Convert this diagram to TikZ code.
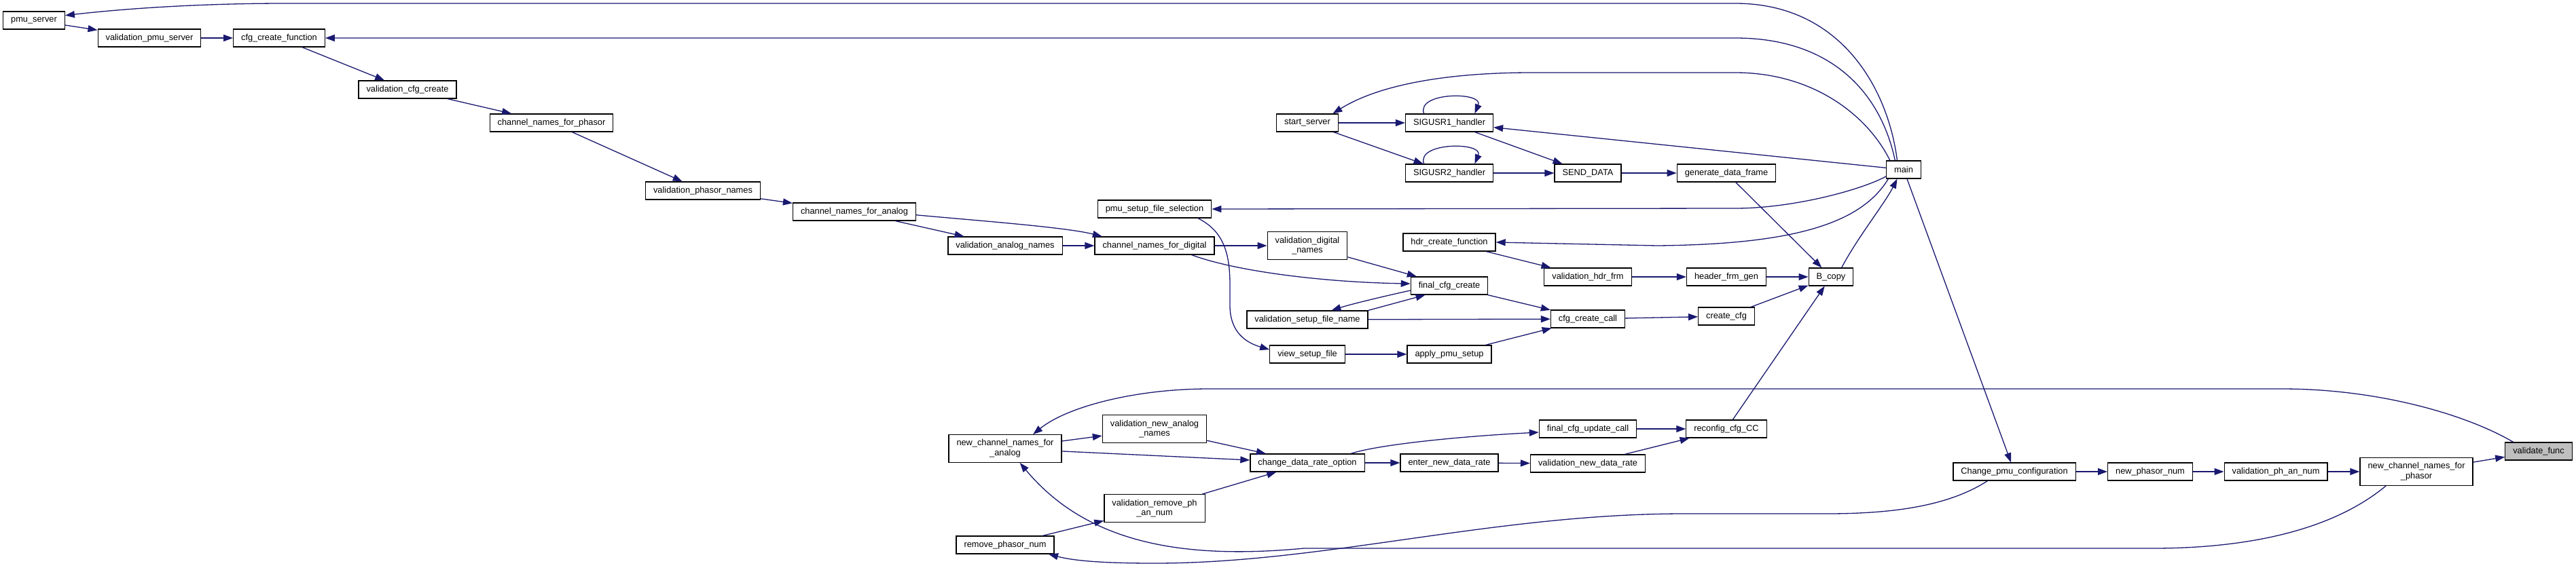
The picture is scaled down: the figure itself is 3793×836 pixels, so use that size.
\documentclass[tikz,border=0pt]{standalone}
\usepackage{fontspec}
\setmainfont{Liberation Sans}
\usetikzlibrary{arrows.meta}
\definecolor{edgeblue}{RGB}{25,25,112}
\definecolor{focusgray}{RGB}{191,191,191}
\tikzset{
  func/.style = {draw = black, line width = 1.2pt, fill = white, inner xsep = 11.5pt, inner ysep = 7pt, minimum height = 26pt, align = center, font = \fontsize{12.8}{14.7}\selectfont},
  focus/.style = {func, fill = focusgray},
  calls/.style = {draw = edgeblue, line width = 1.3pt, -{Triangle[length = 14pt, width = 10pt]}}
}

\begin{document}
\begin{tikzpicture}[x = 1pt, y = -1pt]
\useasboundingbox (0,0) rectangle (3793,836);

\node[func] (pmusrv) at ( 50, 30) {pmu\_server};
\node[func] (valpmusrv) at ( 220, 56) {validation\_pmu\_server};
\node[func] (cfgcf) at ( 411, 56) {cfg\_create\_function};
\node[func] (valcfgc) at ( 600, 132) {validation\_cfg\_create};
\node[func] (cnphasor) at ( 812, 181) {channel\_names\_for\_phasor};
\node[func] (valphasor) at (1035, 281) {validation\_phasor\_names};
\node[func] (cnanalog) at (1258, 312) {channel\_names\_for\_analog};
\node[func] (valanalog) at (1480, 362) {validation\_analog\_names};
\node[func] (cndigital) at (1700, 362) {channel\_names\_for\_digital};
\node[func] (setupsel) at (1700, 308) {pmu\_setup\_file\_selection};
\node[func] (valdigital) at (1925, 362) {validation\_digital\\\_names};
\node[func] (startsrv) at (1925, 181) {start\_server};
\node[func] (sigone) at (2134, 181) {SIGUSR1\_handler};
\node[func] (sigtwo) at (2134, 255) {SIGUSR2\_handler};
\node[func] (senddata) at (2338, 255) {SEND\_DATA};
\node[func] (gendata) at (2542, 255) {generate\_data\_frame};
\node[func] (main) at (2803, 250) {main};
\node[func] (hdrcf) at (2134, 357) {hdr\_create\_function};
\node[func] (valhdr) at (2338, 408) {validation\_hdr\_frm};
\node[func] (hdrgen) at (2542, 408) {header\_frm\_gen};
\node[func] (bcopy) at (2696, 408) {B\_copy};
\node[func] (finalcfg) at (2134, 421) {final\_cfg\_create};
\node[func] (valsetup) at (1925, 471) {validation\_setup\_file\_name};
\node[func] (cfgcall) at (2338, 470) {cfg\_create\_call};
\node[func] (createcfg) at (2542, 466) {create\_cfg};
\node[func] (viewsetup) at (1925, 522) {view\_setup\_file};
\node[func] (applysetup) at (2134, 522) {apply\_pmu\_setup};
\node[func] (ncnanalog) at (1480, 661) {new\_channel\_names\_for\\\_analog};
\node[func] (valnewanalog) at (1700, 632) {validation\_new\_analog\\\_names};
\node[func] (chrate) at (1925, 682) {change\_data\_rate\_option};
\node[func] (fcfgupd) at (2338, 632) {final\_cfg\_update\_call};
\node[func] (reconfig) at (2542, 632) {reconfig\_cfg\_CC};
\node[func] (enterrate) at (2134, 682) {enter\_new\_data\_rate};
\node[func] (valrate) at (2338, 683) {validation\_new\_data\_rate};
\node[func] (valremove) at (1700, 749) {validation\_remove\_ph\\\_an\_num};
\node[func] (removeph) at (1480, 803) {remove\_phasor\_num};
\node[func] (changepmu) at (2966, 695) {Change\_pmu\_configuration};
\node[func] (newphasor) at (3166, 695) {new\_phasor\_num};
\node[func] (valphan) at (3351, 695) {validation\_ph\_an\_num};
\node[func] (ncnphasor) at (3558, 695) {new\_channel\_names\_for\\\_phasor};
\node[focus] (validate) at (3738, 665) {validate\_func};

\draw[calls] (main.125) .. controls (2780,130) and (2710,5) .. (2555,5) -- (420,5) .. controls (300,5) and (190,12) .. (pmusrv.9);
\draw[calls] (pmusrv) -- (valpmusrv);
\draw[calls] (valpmusrv) -- (cfgcf);
\draw[calls] (main.133) .. controls (2770,140) and (2700,56) .. (2555,56) -- (cfgcf.east);
\draw[calls] (cfgcf) -- (valcfgc);
\draw[calls] (valcfgc) -- (cnphasor);
\draw[calls] (cnphasor) -- (valphasor);
\draw[calls] (valphasor) -- (cnanalog);
\draw[calls] (cnanalog) -- (valanalog);
\draw[calls] (cnanalog.-3) .. controls (1450,326) and (1570,335) .. (cndigital.170);
\draw[calls] (valanalog) -- (cndigital);
\draw[calls] (cndigital) -- (valdigital);
\draw[calls] (cndigital.-14) .. controls (1820,400) and (1950,416) .. (finalcfg.177);
\draw[calls] (valdigital) -- (finalcfg);
\draw[calls] (finalcfg.187) .. controls (2040,436) and (1990,448) .. (valsetup.21);
\draw[calls] (valsetup.north east) -- (finalcfg.201);
\draw[calls] (valsetup) -- (cfgcall);
\draw[calls] (finalcfg) -- (cfgcall);
\draw[calls] (applysetup) -- (cfgcall);
\draw[calls] (viewsetup) -- (applysetup);
\draw[calls] (setupsel.-12) .. controls (1800,340) and (1811,370) .. (1811,420) -- (1811,450) .. controls (1811,490) and (1835,505) .. (viewsetup.173);
\draw[calls] (main.201) .. controls (2740,280) and (2640,307) .. (2555,307) -- (setupsel.east);
\draw[calls] (main.146) .. controls (2750,170) and (2670,107) .. (2555,107) -- (2255,107) .. controls (2130,107) and (2030,125) .. (startsrv.20);
\draw[calls] (startsrv) -- (sigone);
\draw[calls] (startsrv) -- (sigtwo);
\draw[calls] (sigone.160) .. controls (2085,135) and (2185,135) .. (sigone.20);
\draw[calls] (sigtwo.160) .. controls (2085,209) and (2185,209) .. (sigtwo.20);
\draw[calls] (main) -- (sigone);
\draw[calls] (sigone) -- (senddata);
\draw[calls] (sigtwo) -- (senddata);
\draw[calls] (senddata) -- (gendata);
\draw[calls] (gendata) -- (bcopy);
\draw[calls] (bcopy.41) .. controls (2735,350) and (2775,300) .. (main.-125);
\draw[calls] (main.211) .. controls (2740,330) and (2640,360) .. (2440,362) -- (hdrcf.east);
\draw[calls] (hdrcf) -- (valhdr);
\draw[calls] (valhdr) -- (hdrgen);
\draw[calls] (hdrgen) -- (bcopy);
\draw[calls] (createcfg) -- (bcopy);
\draw[calls] (cfgcall) -- (createcfg);
\draw[calls] (reconfig) -- (bcopy);
\draw[calls] (fcfgupd) -- (reconfig);
\draw[calls] (valrate) -- (reconfig);
\draw[calls] (enterrate) -- (valrate);
\draw[calls] (chrate) -- (enterrate);
\draw[calls] (chrate.12) .. controls (2030,655) and (2150,643) .. (fcfgupd.184);
\draw[calls] (valnewanalog) -- (chrate);
\draw[calls] (ncnanalog) -- (chrate);
\draw[calls] (ncnanalog) -- (valnewanalog);
\draw[calls] (valremove) -- (chrate);
\draw[calls] (removeph) -- (valremove);
\draw[calls] (validate.160) .. controls (3630,610) and (3500,573) .. (3360,573) -- (1780,573) .. controls (1670,573) and (1570,600) .. (ncnanalog.27);
\draw[calls] (changepmu.199) .. controls (2870,745) and (2790,757) .. (2690,757) -- (2480,757) .. controls (2200,757) and (1950,830) .. (1700,830) .. controls (1620,830) and (1580,826) .. (removeph.-12);
\draw[calls] (main) -- (changepmu);
\draw[calls] (changepmu) -- (newphasor);
\draw[calls] (newphasor) -- (valphan);
\draw[calls] (valphan) -- (ncnphasor);
\draw[calls] (ncnphasor) -- (validate);
\draw[calls] (ncnphasor.205) .. controls (3430,785) and (3300,808) .. (3170,808) -- (1920,808) .. controls (1740,825) and (1600,800) .. (ncnanalog.-44);



\end{tikzpicture}
\end{document}
